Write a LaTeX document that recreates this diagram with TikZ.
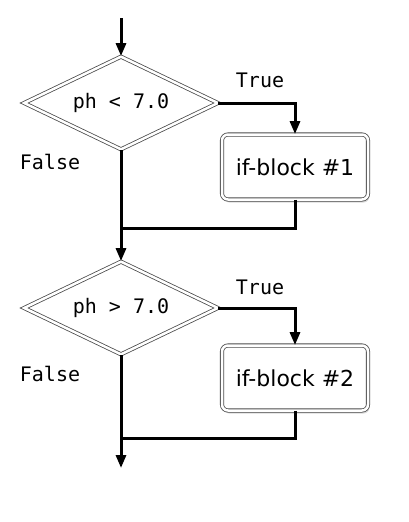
\documentclass[tikz,border=0pt]{standalone}
\usepackage{fontspec}
\newfontfamily\codefont{DejaVu Sans Mono}
\newfontfamily\boxfont{DejaVu Sans}
\usetikzlibrary{shapes.geometric,shadows,arrows.meta}
\begin{document}
\begin{tikzpicture}[x=1pt,y=-1pt,>={Triangle[width=10pt,length=13pt]},
	test/.style={diamond,aspect=2.5,draw=black!70,double=white,double distance=2.5pt,line width=0.8pt,
		minimum width=194pt,minimum height=93pt,inner sep=0pt,font=\codefont\fontsize{20}{24}\selectfont},
	block/.style={rectangle,rounded corners=6pt,draw=black!70,double=white,double distance=2.5pt,
		line width=0.8pt,fill=white,minimum width=146pt,minimum height=65pt,
		drop shadow={shadow xshift=1.5pt,shadow yshift=-3pt,opacity=0.3},font=\boxfont\fontsize{22}{26}\selectfont},
	lbl/.style={font=\codefont\fontsize{20}{24}\selectfont},
	flow/.style={line width=3pt}]
			\useasboundingbox (0,0) rectangle (408,522);
			\coordinate (start) at (121,18);
			\node[test] (d1) at (121,103) {ph < 7.0};
			\node[block] (b1) at (295,167) {if-block \#1};
			\coordinate (m1) at (121,228);
			\node[test] (d2) at (121,308) {ph > 7.0};
			\node[block] (b2) at (295,378) {if-block \#2};
			\coordinate (m2) at (121,438);
			\coordinate (stop) at (121,468);
			\node[lbl] (t1) at (260,80) {True};%first test
			\node[lbl] (f1) at (50,162) {False};
			\node[lbl] (t2) at (260,287) {True};%second test
			\node[lbl] (f2) at (50,374) {False};
			\draw[flow,->] (start)--(d1);
			\draw[flow,->] (d1.east) -| (b1);
			\draw[flow] (d1.south)--(m1);
			\draw[flow] (b1) |- (m1);
			\draw[flow,->] (m1)--(d2);
			\draw[flow,->] (d2.east) -| (b2);
			\draw[flow] (d2.south)--(m2);
			\draw[flow] (b2) |- (m2);
			\draw[flow,->] (m2)--(stop);
	\end{tikzpicture}
\end{document}
